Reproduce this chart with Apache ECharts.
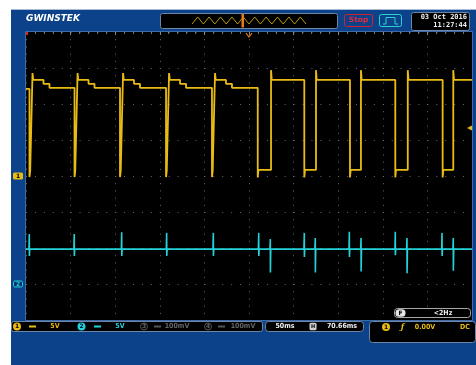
<!DOCTYPE html>
<html><head><meta charset="utf-8">
<script src="https://cdn.jsdelivr.net/npm/echarts@6/dist/echarts.min.js"></script>
<style>
html,body{margin:0;padding:0;background:#fff;width:476px;height:365px;overflow:hidden}
#panel{position:absolute;left:11px;top:9px;width:465px;height:356px;background:#0b428a;border-top:1px solid #a9bcd6;box-sizing:border-box}
#c{position:absolute;left:0;top:0;width:476px;height:365px}
</style>
</head><body><div id="panel"></div><div id="c"></div>
<script>
// ---- axis ranges (time in ms, 50 ms/div; vertical in divisions) ----
const timeRange = [0, 500];
const timeStep = 50;
const divRange = [-4, 4];
const divStep = 1;

// ---- CH1 (yellow), first half: narrow low pulses ----
const ch1FallsA   = [3.9, 54.4, 105.4, 157.0, 208.5];
const ch1RisesA   = [7.3, 57.8, 108.8, 160.4, 211.9];
const ch1BumpEndA = [19.6, 70.1, 121.1, 172.7, 224.2];
const ch1StepEndA = [26.3, 76.8, 127.8, 179.4, 230.9];
// levels: [start, bump, step, settled, overshoot, low, undershoot]
const ch1LevelsA  = [2.42, 2.67, 2.56, 2.45, 2.86, 0.14, -0.03];

// ---- CH1 second half: wider low pulses ----
const ch1FallsB = [259.8, 312.0, 363.2, 414.0, 467.1];
const ch1RisesB = [274.7, 325.1, 375.5, 428.0, 479.0];
// levels: [high, overshoot, low, undershoot]
const ch1LevelsB = [2.67, 2.94, 0.17, -0.04];

// ---- CH2 (cyan): baseline with spikes at CH1 edges ----
const ch2Base = -2.03;
const ch2SpikeTimes = [3.7, 54.1, 107.3, 157.7, 210.0, 260.9, 273.9, 312.0, 324.3, 362.5, 375.6, 414.0, 427.1, 466.4, 479.0];
const ch2SpikeUp    = [-1.61, -1.61, -1.56, -1.58, -1.58, -1.58, -1.75, -1.58, -1.72, -1.55, -1.72, -1.55, -1.72, -1.58, -1.72];
const ch2SpikeDown  = [-2.22, -2.22, -2.22, -2.22, -2.22, -2.22, -2.68, -2.25, -2.68, -2.25, -2.65, -2.20, -2.70, -2.22, -2.63];

// ---- markers / overview ----
const ch1Ground = 0;
const ch2Ground = -3;
const triggerLevel = 1.33;
const triggerTime = 250;
const overviewWave = [0,1,0,1,0,1,0,1,0,1,0,1,0,1,0,1,0,1,0,1,0];

// ---- status texts ----
const ch1Scale = '5V', ch2Scale = '5V', ch3Scale = '100mV', ch4Scale = '100mV';
const timeScale = '50ms', timeOffset = '70.66ms';
const trigValue = '0.00V', trigCoupling = 'DC', freqText = '<2Hz';
const dateText = '03 Oct 2016', clockText = '11:27:44';

const YEL = '#e8bc14', CYN = '#22d2d8', GRID = '#6a6a6a', FRAME = '#6d86a8';

// build CH1 polyline from the read vertices
const ch1 = [[timeRange[0], ch1LevelsA[0]]];
let prev = ch1LevelsA[0];
for (let i = 0; i < ch1FallsA.length; i++) {
  const f = ch1FallsA[i], r = ch1RisesA[i];
  ch1.push([f, prev], [f, ch1LevelsA[6]], [f + 0.8, ch1LevelsA[5]], [r - 0.4, ch1LevelsA[5]],
           [r, ch1LevelsA[4]], [r + 0.8, ch1LevelsA[1]], [ch1BumpEndA[i], ch1LevelsA[1]],
           [ch1BumpEndA[i], ch1LevelsA[2]], [ch1StepEndA[i], ch1LevelsA[2]], [ch1StepEndA[i], ch1LevelsA[3]]);
  prev = ch1LevelsA[3];
}
for (let i = 0; i < ch1FallsB.length; i++) {
  const f = ch1FallsB[i], r = ch1RisesB[i];
  ch1.push([f, prev], [f, ch1LevelsB[3]], [f + 0.8, ch1LevelsB[2]], [r, ch1LevelsB[2]],
           [r, ch1LevelsB[1]], [r + 0.8, ch1LevelsB[0]]);
  prev = ch1LevelsB[0];
}
ch1.push([timeRange[1], prev]);

const ch2 = [[timeRange[0], ch2Base]];
for (let i = 0; i < ch2SpikeTimes.length; i++) {
  const t = ch2SpikeTimes[i];
  ch2.push([t - 0.4, ch2Base], [t, ch2SpikeUp[i]], [t + 0.1, ch2SpikeDown[i]], [t + 0.5, ch2Base]);
}
ch2.push([timeRange[1], ch2Base]);

const chart = echarts.init(document.getElementById('c'), null, {width: 476, height: 365});
chart.setOption({
  animation: false,
  backgroundColor: 'transparent',
  grid: [
    {left: 26, top: 32, width: 446, height: 288, show: true, backgroundColor: '#000', borderWidth: 0},
    {left: 192, top: 17, width: 114, height: 7, show: false}
  ],
  xAxis: [
    {gridIndex: 0, type: 'value', min: timeRange[0], max: timeRange[1], interval: timeStep,
     axisLine: {show: false}, axisTick: {show: false}, axisLabel: {show: false},
     splitLine: {show: true, lineStyle: {color: GRID, width: 1, type: [1, 6.2]}}},
    {gridIndex: 0, type: 'value', position: 'top', min: timeRange[0], max: timeRange[1], interval: timeStep,
     axisLine: {show: false}, axisLabel: {show: false},
     axisTick: {show: true, inside: true, length: 3, lineStyle: {color: '#888'}},
     minorTick: {show: true, splitNumber: 5, length: 2, lineStyle: {color: '#777'}},
     splitLine: {show: false}},
    {gridIndex: 1, type: 'category', show: false, boundaryGap: false, data: overviewWave.map((v, i) => i)}
  ],
  yAxis: [
    {gridIndex: 0, type: 'value', min: divRange[0], max: divRange[1], interval: divStep,
     axisLine: {show: false}, axisTick: {show: false}, axisLabel: {show: false},
     splitLine: {show: true, lineStyle: {color: GRID, width: 1, type: [1, 7.92]}}},
    {gridIndex: 1, type: 'value', min: 0, max: 1, show: false}
  ],
  series: [
    {type: 'line', xAxisIndex: 0, yAxisIndex: 0, data: ch2, showSymbol: false, silent: true,
     lineStyle: {color: CYN, width: 1.6}},
    {type: 'line', xAxisIndex: 0, yAxisIndex: 0, data: ch1, showSymbol: false, silent: true,
     lineStyle: {color: YEL, width: 1.8},
     markPoint: {silent: true, symbol: 'triangle', symbolRotate: 90, symbolSize: 6, label: {show: false},
       itemStyle: {color: YEL}, data: [{coord: [timeRange[1], triggerLevel], symbolOffset: [-2, 0]}]}},
    {type: 'line', xAxisIndex: 2, yAxisIndex: 1, data: overviewWave, showSymbol: false, silent: true,
     z: 30, lineStyle: {color: '#b89a10', width: 1}}
  ]
});

const px = (t, v) => chart.convertToPixel({gridIndex: 0}, [t, v]);
const g1 = px(0, ch1Ground), g2 = px(0, ch2Ground), tp = px(triggerTime, divRange[1]);

function txt(x, y, s, color, font, align) {
  return {type: 'text', z: 20, style: {text: s, x: x, y: y, fill: color, font: font,
    textAlign: align || 'center', align: align || 'center', textVerticalAlign: 'middle', verticalAlign: 'middle'}};
}
function rect(x, y, w, h, fill, stroke, r, lw, z) {
  return {type: 'rect', z: z == null ? 15 : z, shape: {x: x, y: y, width: w, height: h, r: r || 0},
    style: {fill: fill || 'none', stroke: stroke || 'none', lineWidth: lw || 1}};
}
function circ(cx, cy, r, fill, stroke) {
  return {type: 'circle', z: 16, shape: {cx: cx, cy: cy, r: r}, style: {fill: fill || 'none', stroke: stroke || 'none', lineWidth: 1}};
}
const F7 = 'bold 7px "DejaVu Sans Condensed", "DejaVu Sans", sans-serif';
const F6 = 'bold 6px "DejaVu Sans", sans-serif';
const MONO = 'bold 7px "DejaVu Sans Mono", monospace';

const els = [
  // screen border
  rect(25.5, 31.5, 447, 289, 'none', '#3e6aa8'),
  // header
  txt(26, 19, 'GWINSTEK', '#ffffff', 'bold italic 9px "DejaVu Sans", sans-serif', 'left'),
  rect(160.5, 13.5, 177, 15, '#000', FRAME, 2, 1, 0),
  rect(241.5, 14, 2.5, 13.5, '#e87a1a', null, 0, 1, 40),
  rect(344.5, 14.5, 28, 12, 'none', '#d42030', 2),
  txt(358.5, 20.5, 'Stop', '#e42a3a', 'bold 7.5px "DejaVu Sans", sans-serif'),
  rect(379.5, 14.5, 22, 12, 'none', '#2ad2d0', 2),
  {type: 'polyline', z: 16, shape: {points: [[383, 24], [386, 24], [386, 17.5], [395, 17.5], [395, 24], [398, 24]]},
   style: {stroke: '#2ad2d0', lineWidth: 1, fill: 'none'}},
  rect(411.5, 12.5, 58, 18, '#000', FRAME, 2),
  txt(467, 17, dateText, '#f0f0f0', MONO, 'right'),
  txt(467, 25.5, clockText, '#f0f0f0', MONO, 'right'),
  // top markers
  rect(26, 32, 2, 3, '#e02020'),
  {type: 'polyline', z: 16, shape: {points: [[tp[0] - 3, tp[1] + 1], [tp[0], tp[1] + 5], [tp[0] + 3, tp[1] + 1]]},
   style: {stroke: '#e87a1a', lineWidth: 1.2, fill: 'none'}},
  // channel ground markers
  rect(13, g1[1] - 3.5, 10, 7, YEL, null, 1.5),
  txt(18, g1[1], '1', '#000', F6),
  rect(13.5, g2[1] - 3, 9, 6, '#0a3370', CYN, 1.5),
  txt(18, g2[1], '2', CYN, F6),
  // frequency box
  rect(394.5, 308.5, 76, 9, '#000', '#a8a8a8', 3),
  rect(395.5, 309.3, 10, 7.4, '#e6e6e6', null, 3.5),
  txt(400.5, 313, 'F', '#000', F6),
  txt(443, 313, freqText, '#f0f0f0', F7),
  // status bar
  rect(11.5, 321.5, 251, 10, '#000', FRAME, 2),
  circ(17, 326.5, 4, YEL), txt(17, 326.5, '1', '#000', F6),
  rect(29, 325.5, 7, 2, YEL),
  txt(55, 326.5, ch1Scale, YEL, F7),
  circ(81.5, 326.5, 4, CYN), txt(81.5, 326.5, '2', '#003', F6),
  rect(94, 325.5, 7, 2, CYN),
  txt(120, 326.5, ch2Scale, CYN, F7),
  circ(144, 326.5, 3.5, null, '#555'), txt(144, 326.5, '3', '#666', F6),
  rect(154, 325.5, 7, 2, '#555'),
  txt(177, 326.5, ch3Scale, '#666', F7),
  circ(208, 326.5, 3.5, null, '#555'), txt(208, 326.5, '4', '#666', F6),
  rect(218, 325.5, 7, 2, '#555'),
  txt(243, 326.5, ch4Scale, '#666', F7),
  // timebase box
  rect(265.5, 321.5, 98, 10, '#000', FRAME, 3),
  txt(285, 326.5, timeScale, '#f0f0f0', F7),
  rect(309.5, 322.8, 7, 7.4, '#cfcfcf', null, 1.5),
  txt(313, 326.5, 'H', '#000', 'bold 5px "DejaVu Sans", sans-serif'),
  txt(342, 326.5, timeOffset, '#f0f0f0', F7),
  // trigger box
  rect(369.5, 321.5, 106, 21, '#000', FRAME, 3),
  circ(386, 327, 4, YEL), txt(386, 327, '1', '#000', F6),
  txt(402.5, 327, 'ƒ', YEL, 'bold italic 8px "DejaVu Serif", serif'),
  txt(425, 327, trigValue, YEL, F7),
  txt(465, 327, trigCoupling, YEL, F7)
];
chart.setOption({graphic: {elements: els}});
</script>
</body></html>
